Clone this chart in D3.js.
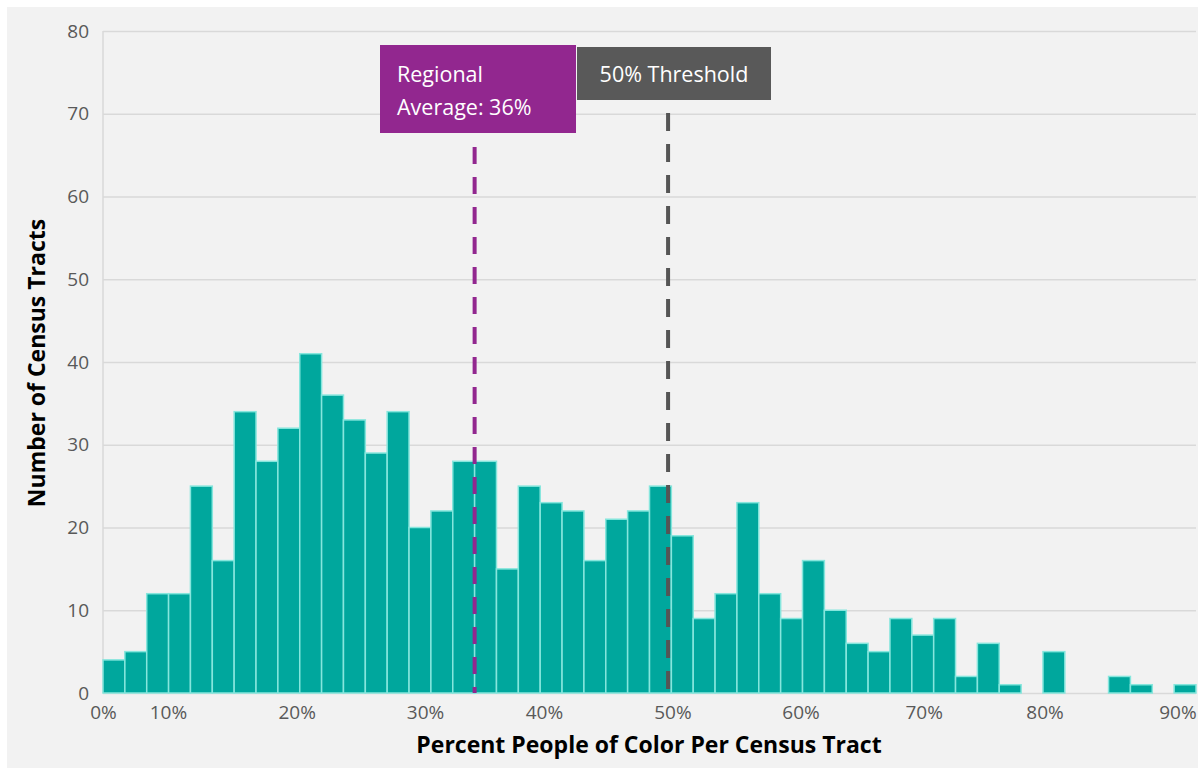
<!DOCTYPE html>
<html>
<head>
<meta charset="utf-8">
<script src="https://cdn.jsdelivr.net/npm/d3@7"></script>
<style>
  body { margin: 0; background: #ffffff; }
  svg { display: block; font-family: 'Open Sans', 'Noto Sans', sans-serif; }
</style>
</head>
<body>
<svg width="1198" height="768"></svg>
<script>
// Tract counts per bin (50 bins, left to right)
const counts = [4, 5, 12, 12, 25, 16, 34, 28, 32, 41,
  36, 33, 29, 34, 20, 22, 28, 28, 15, 25,
  23, 22, 16, 21, 22, 25, 19, 9, 12, 23,
  12, 9, 16, 10, 6, 5, 9, 7, 9, 2,
  6, 1, 0, 5, 0, 0, 2, 1, 0, 1]

// Category labels and the bin position they sit at
const tickLabels = ['0%', '10%', '20%', '30%', '40%', '50%', '60%', '70%', '80%', '90%']
const tickBins = [0, 2.97, 8.86, 14.73, 20.17, 26.05, 31.91, 37.54, 43.07, 49.15]

const yTicks = [0, 10, 20, 30, 40, 50, 60, 70, 80]

// Reference lines (in bin units)
const avgBin = 17.0
const thresholdBin = 25.85

const teal = '#00a79d',
  purple = '#92278f',
  grey = '#595959'

let xPixelMin = 103
let xPixelMax = 1196
let yPixelMin = 31
let yPixelMax = 693

const svg = d3.select('svg')

svg.append('rect')
  .attr('x', 7).attr('y', 7)
  .attr('width', 1191).attr('height', 761)
  .attr('fill', '#f2f2f2')

let xScale = d3.scaleLinear().domain([0, counts.length]).range([xPixelMin, xPixelMax])
let yScale = d3.scaleLinear().domain([0, 80]).range([yPixelMax, yPixelMin])

// Gridlines + y labels
let yAxis = d3.axisLeft(yScale)
  .tickValues(yTicks)
  .tickSize(-(xPixelMax - xPixelMin))
  .tickPadding(14)

svg.append('g')
  .attr('id', 'yAxisG')
  .attr('transform', `translate(${xPixelMin}, 0)`)
  .call(yAxis)
  .attr('font-family', null)
  .call((g) => g.select('.domain').remove())
  .call((g) => g.selectAll('line').attr('stroke', '#d9d9d9').attr('stroke-width', 1.5))
  .call((g) => g.selectAll('text').attr('fill', grey).style('font-size', '19px'))

// left vertical line
svg.append('line')
  .attr('x1', xPixelMin).attr('x2', xPixelMin)
  .attr('y1', yPixelMin).attr('y2', yPixelMax)
  .attr('stroke', '#d9d9d9').attr('stroke-width', 1.5)

// Bars
svg.selectAll('rect.bar')
  .data(counts)
  .enter()
  .append('rect')
  .attr('class', 'bar')
  .attr('x', (d, i) => xScale(i))
  .attr('y', (d) => yScale(d))
  .attr('width', xScale(1) - xScale(0))
  .attr('height', (d) => yScale(0) - yScale(d))
  .attr('fill', teal)
  .attr('stroke', (d) => (d > 0 ? '#86e6dd' : 'none'))
  .attr('stroke-width', 1.5)

// X labels
let xAxis = d3.axisBottom(xScale)
  .tickValues(tickBins)
  .tickFormat((d, i) => tickLabels[i])
  .tickSize(0)
  .tickPadding(13)

svg.append('g')
  .attr('id', 'xAxisG')
  .attr('transform', `translate(0, ${yPixelMax})`)
  .call(xAxis)
  .attr('font-family', null)
  .call((g) => g.select('.domain').remove())
  .call((g) => g.selectAll('text').attr('fill', grey).style('font-size', '19px'))

// Reference lines
svg.append('line')
  .attr('x1', xScale(avgBin)).attr('x2', xScale(avgBin))
  .attr('y1', 147).attr('y2', yPixelMax)
  .attr('stroke', purple).attr('stroke-width', 4)
  .attr('stroke-dasharray', '17 13')

svg.append('line')
  .attr('x1', xScale(thresholdBin)).attr('x2', xScale(thresholdBin))
  .attr('y1', 113).attr('y2', yPixelMax)
  .attr('stroke', '#555555').attr('stroke-width', 4)
  .attr('stroke-dasharray', '18 13')

// Label boxes
svg.append('rect')
  .attr('x', 380).attr('y', 45).attr('width', 196).attr('height', 88)
  .attr('fill', purple)
svg.append('text')
  .attr('x', 397).attr('y', 82)
  .attr('fill', '#ffffff').style('font-size', '21.5px')
  .text('Regional')
svg.append('text')
  .attr('x', 397).attr('y', 115)
  .attr('fill', '#ffffff').style('font-size', '21.5px')
  .text('Average: 36%')

svg.append('rect')
  .attr('x', 577).attr('y', 47).attr('width', 194).attr('height', 53)
  .attr('fill', grey)
svg.append('text')
  .attr('x', 674).attr('y', 82)
  .attr('text-anchor', 'middle')
  .attr('fill', '#ffffff').style('font-size', '21.5px')
  .text('50% Threshold')

// Axis titles
svg.append('text')
  .attr('x', 649).attr('y', 753)
  .attr('text-anchor', 'middle')
  .style('font-size', '23px').style('font-weight', 'bold')
  .attr('fill', '#000000')
  .text('Percent People of Color Per Census Tract')

svg.append('text')
  .attr('transform', 'translate(45, 363) rotate(-90)')
  .attr('text-anchor', 'middle')
  .style('font-size', '23px').style('font-weight', 'bold')
  .attr('fill', '#000000')
  .text('Number of Census Tracts')
</script>
</body>
</html>
